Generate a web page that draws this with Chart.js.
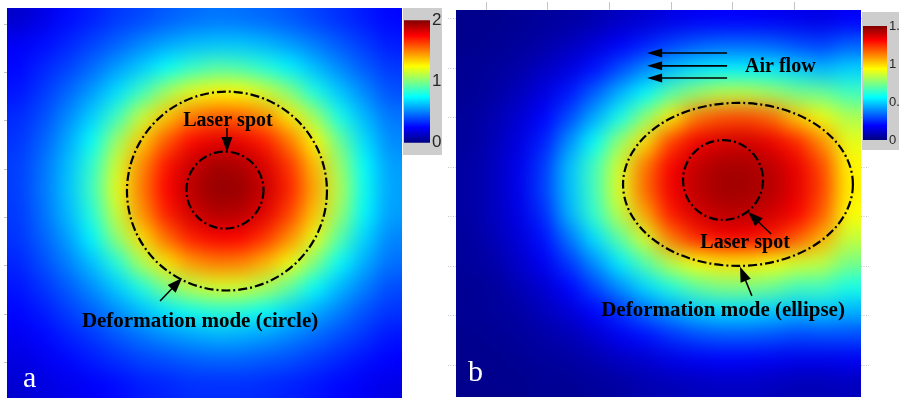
<!DOCTYPE html>
<html>
<head>
<meta charset="utf-8">
<script src="https://cdn.jsdelivr.net/npm/chart.js@4.4.1/dist/chart.umd.min.js"></script>
<style>
  body { margin: 0; width: 899px; height: 400px; overflow: hidden; background: #fff; position: relative; }
  canvas { position: absolute; }
</style>
</head>
<body>
<canvas id="mapA" width="403" height="400" style="left:0;top:0"></canvas>
<canvas id="barA" width="39" height="147" style="left:403px;top:8px;background:#cdcdcd"></canvas>
<canvas id="mapB" width="421" height="400" style="left:448px;top:0"></canvas>
<canvas id="barB" width="37" height="138" style="left:862px;top:12px;background:#cdcdcd"></canvas>
<script>
// --- deformation fields, 16 x 16 cells, row 0 at the top ---
const fieldA = [
  [0.15, 0.20, 0.27, 0.31, 0.36, 0.39, 0.43, 0.46, 0.48, 0.47, 0.45, 0.42, 0.38, 0.34, 0.30, 0.26],
  [0.23, 0.27, 0.32, 0.38, 0.44, 0.51, 0.57, 0.61, 0.63, 0.63, 0.60, 0.55, 0.49, 0.42, 0.36, 0.30],
  [0.26, 0.32, 0.38, 0.46, 0.56, 0.65, 0.76, 0.85, 0.91, 0.89, 0.82, 0.73, 0.62, 0.52, 0.43, 0.36],
  [0.29, 0.36, 0.45, 0.56, 0.69, 0.87, 1.07, 1.20, 1.26, 1.25, 1.16, 1.01, 0.80, 0.64, 0.52, 0.41],
  [0.33, 0.40, 0.52, 0.66, 0.87, 1.14, 1.36, 1.51, 1.58, 1.56, 1.47, 1.29, 1.06, 0.79, 0.61, 0.48],
  [0.35, 0.44, 0.58, 0.76, 1.06, 1.35, 1.58, 1.74, 1.80, 1.79, 1.70, 1.51, 1.26, 0.96, 0.69, 0.52],
  [0.37, 0.47, 0.62, 0.84, 1.17, 1.48, 1.72, 1.86, 1.93, 1.91, 1.82, 1.65, 1.38, 1.06, 0.75, 0.56],
  [0.37, 0.48, 0.63, 0.87, 1.21, 1.51, 1.75, 1.89, 1.96, 1.95, 1.86, 1.69, 1.42, 1.10, 0.77, 0.57],
  [0.36, 0.47, 0.61, 0.82, 1.15, 1.46, 1.70, 1.84, 1.90, 1.89, 1.80, 1.62, 1.36, 1.05, 0.74, 0.56],
  [0.35, 0.44, 0.56, 0.74, 1.03, 1.31, 1.54, 1.70, 1.76, 1.75, 1.65, 1.47, 1.21, 0.92, 0.67, 0.51],
  [0.32, 0.40, 0.50, 0.63, 0.82, 1.09, 1.30, 1.45, 1.51, 1.50, 1.40, 1.23, 1.00, 0.76, 0.59, 0.47],
  [0.29, 0.35, 0.43, 0.53, 0.65, 0.81, 1.00, 1.12, 1.18, 1.17, 1.09, 0.94, 0.76, 0.61, 0.50, 0.40],
  [0.26, 0.30, 0.37, 0.44, 0.53, 0.62, 0.71, 0.78, 0.82, 0.81, 0.76, 0.67, 0.59, 0.50, 0.41, 0.35],
  [0.22, 0.26, 0.31, 0.36, 0.42, 0.48, 0.53, 0.57, 0.60, 0.59, 0.56, 0.51, 0.46, 0.40, 0.35, 0.29],
  [0.19, 0.22, 0.26, 0.30, 0.34, 0.38, 0.40, 0.43, 0.44, 0.44, 0.42, 0.40, 0.36, 0.32, 0.28, 0.25],
  [0.16, 0.19, 0.21, 0.24, 0.27, 0.30, 0.32, 0.34, 0.34, 0.34, 0.33, 0.31, 0.29, 0.26, 0.23, 0.20]
];

const fieldB = [
  [0.02, 0.02, 0.03, 0.04, 0.05, 0.07, 0.10, 0.12, 0.15, 0.17, 0.18, 0.18, 0.17, 0.16, 0.15, 0.18],
  [0.02, 0.03, 0.04, 0.06, 0.09, 0.13, 0.18, 0.23, 0.28, 0.32, 0.34, 0.34, 0.33, 0.30, 0.28, 0.33],
  [0.03, 0.04, 0.06, 0.10, 0.14, 0.21, 0.30, 0.39, 0.47, 0.52, 0.55, 0.55, 0.54, 0.50, 0.46, 0.50],
  [0.03, 0.05, 0.09, 0.14, 0.22, 0.33, 0.45, 0.56, 0.69, 0.78, 0.84, 0.84, 0.80, 0.74, 0.72, 0.66],
  [0.04, 0.07, 0.12, 0.19, 0.30, 0.44, 0.59, 0.77, 0.96, 1.14, 1.20, 1.21, 1.16, 1.02, 0.92, 0.82],
  [0.04, 0.08, 0.14, 0.23, 0.40, 0.57, 0.78, 0.98, 1.22, 1.33, 1.37, 1.38, 1.34, 1.26, 1.10, 0.90],
  [0.05, 0.09, 0.16, 0.27, 0.47, 0.66, 0.88, 1.14, 1.32, 1.40, 1.44, 1.44, 1.41, 1.34, 1.21, 0.95],
  [0.05, 0.09, 0.16, 0.28, 0.47, 0.66, 0.90, 1.16, 1.33, 1.41, 1.45, 1.45, 1.42, 1.35, 1.22, 0.96],
  [0.05, 0.09, 0.15, 0.25, 0.45, 0.64, 0.84, 1.07, 1.28, 1.37, 1.41, 1.41, 1.38, 1.32, 1.18, 0.93],
  [0.04, 0.08, 0.13, 0.21, 0.36, 0.52, 0.70, 0.88, 1.13, 1.26, 1.32, 1.32, 1.28, 1.18, 1.05, 0.85],
  [0.04, 0.06, 0.11, 0.17, 0.27, 0.40, 0.54, 0.69, 0.84, 0.93, 0.97, 0.97, 0.93, 0.88, 0.85, 0.74],
  [0.03, 0.04, 0.08, 0.12, 0.19, 0.29, 0.40, 0.51, 0.61, 0.70, 0.75, 0.75, 0.72, 0.66, 0.66, 0.60],
  [0.03, 0.04, 0.05, 0.09, 0.13, 0.19, 0.26, 0.35, 0.42, 0.48, 0.51, 0.51, 0.49, 0.46, 0.48, 0.45],
  [0.02, 0.03, 0.04, 0.06, 0.08, 0.12, 0.17, 0.21, 0.26, 0.30, 0.32, 0.32, 0.31, 0.29, 0.30, 0.30],
  [0.02, 0.02, 0.03, 0.04, 0.05, 0.07, 0.10, 0.12, 0.15, 0.17, 0.18, 0.18, 0.17, 0.16, 0.16, 0.17],
  [0.02, 0.02, 0.02, 0.03, 0.03, 0.04, 0.05, 0.07, 0.08, 0.09, 0.10, 0.10, 0.09, 0.08, 0.08, 0.09]
];

// colour bar ranges and their tick labels
const maxA = 2;
const maxB = 1.5;
const barTicksA = [0, 1, 2];
const barTicksB = [0, 0.5, 1, 1.5];

// faint axis tick positions (in cell units) round the maps
const rowTicksA = [0.66, 2.64, 4.63, 6.61, 8.6, 10.58, 12.57, 14.56];
const rowTicksB = [0.37, 2.41, 4.46, 6.5, 8.54, 10.59, 12.63, 14.68];
const colTicksB = [1.22, 3.63, 6.08, 8.53, 10.94, 13.39];

// annotations, in cell units
const marksA = {
  rings: [{ x: 8.91, y: 7.51, rx: 4.05, ry: 4.08 }, { x: 8.83, y: 7.47, rx: 1.56, ry: 1.58 }],
  labels: [
    { text: 'Laser spot', x: 8.95, y: 4.64, size: 20 },
    { text: 'Deformation mode (circle)', x: 7.82, y: 12.88, size: 21 }
  ],
  arrows: [{ from: [8.91, 4.92], to: [8.91, 5.91] }, { from: [6.2, 12.02], to: [7.09, 11.08] }],
  letter: { text: 'a', x: 0.65, y: 15.55 }
};
const marksB = {
  rings: [{ x: 11.14, y: 7.21, rx: 4.54, ry: 3.37 }, { x: 10.55, y: 7.03, rx: 1.58, ry: 1.65 }],
  labels: [
    { text: 'Laser spot', x: 11.42, y: 9.63, size: 20 },
    { text: 'Deformation mode (ellipse)', x: 10.55, y: 12.44, size: 21 },
    { text: 'Air flow', x: 11.42, y: 2.36, size: 20, align: 'left' }
  ],
  arrows: [
    { from: [12.45, 9.26], to: [11.54, 8.35] },
    { from: [11.69, 11.82], to: [11.22, 10.62] },
    { from: [10.71, 1.78], to: [7.55, 1.78], thin: true },
    { from: [10.71, 2.31], to: [7.55, 2.31], thin: true },
    { from: [10.71, 2.81], to: [7.55, 2.81], thin: true }
  ],
  letter: { text: 'b', x: 0.47, y: 15.34 }
};

// MATLAB style jet colormap, t in [0, 1]
function jet(t) {
  t = Math.min(1, Math.max(0, t));
  const c = k => Math.round(255 * Math.min(1, Math.max(0, 1.5 - Math.abs(4 * t - k))));
  return `rgb(${c(3)},${c(2)},${c(1)})`;
}

function jetGradient(chart) {
  const a = chart.chartArea;
  if (!a) return 'transparent';
  const g = chart.ctx.createLinearGradient(0, a.bottom, 0, a.top);
  [0, 0.125, 0.375, 0.625, 0.875, 1].forEach(s => g.addColorStop(s, jet(s)));
  return g;
}

// cells are drawn off screen, then laid down sharp and softened on top
const softCells = {
  id: 'softCells',
  beforeDatasetDraw(chart, args) {
    const { ctx, chartArea: a } = chart;
    const off = document.createElement('canvas');
    off.width = chart.canvas.width;
    off.height = chart.canvas.height;
    const octx = off.getContext('2d');
    args.meta.data.forEach(p => p.draw(octx, a));
    ctx.save();
    ctx.beginPath();
    ctx.rect(a.left, a.top, a.width, a.height);
    ctx.clip();
    ctx.drawImage(off, 0, 0);
    ctx.filter = 'blur(10px)';
    for (let i = 0; i < 3; i++) ctx.drawImage(off, 0, 0);
    ctx.restore();
    return false;
  }
};

function drawArrow(ctx, x1, y1, x2, y2, len, half) {
  const ang = Math.atan2(y2 - y1, x2 - x1);
  const bx = x2 - Math.cos(ang) * len, by = y2 - Math.sin(ang) * len;
  ctx.beginPath();
  ctx.moveTo(x1, y1);
  ctx.lineTo(bx + Math.cos(ang) * 2, by + Math.sin(ang) * 2);
  ctx.stroke();
  ctx.beginPath();
  ctx.moveTo(x2, y2);
  ctx.lineTo(bx - Math.sin(ang) * half, by + Math.cos(ang) * half);
  ctx.lineTo(bx + Math.sin(ang) * half, by - Math.cos(ang) * half);
  ctx.closePath();
  ctx.fill();
}

function makeMarks(spec) {
  return {
    id: 'marks',
    afterDatasetsDraw(chart) {
      const { ctx, scales: { x, y } } = chart;
      const px = u => x.getPixelForValue(u);
      const py = v => y.getPixelForValue(v);
      ctx.save();
      ctx.strokeStyle = '#000';
      ctx.fillStyle = '#000';

      // dash-dot outlines
      ctx.lineWidth = 2.2;
      ctx.setLineDash([9, 3, 2, 3]);
      spec.rings.forEach(r => {
        ctx.beginPath();
        ctx.ellipse(px(r.x), py(r.y), Math.abs(px(r.x + r.rx) - px(r.x)),
          Math.abs(py(r.y + r.ry) - py(r.y)), 0, 0, Math.PI * 2);
        ctx.stroke();
      });
      ctx.setLineDash([]);

      spec.arrows.forEach(a => {
        ctx.lineWidth = a.thin ? 1.6 : 1.5;
        drawArrow(ctx, px(a.from[0]), py(a.from[1]), px(a.to[0]), py(a.to[1]), 15, a.thin ? 4.5 : 5.5);
      });

      ctx.textBaseline = 'middle';
      spec.labels.forEach(l => {
        ctx.font = `bold ${l.size}px "Liberation Serif", "Times New Roman", serif`;
        ctx.textAlign = l.align || 'center';
        ctx.fillText(l.text, px(l.x), py(l.y));
      });

      ctx.fillStyle = '#fff';
      ctx.textAlign = 'left';
      ctx.textBaseline = 'alphabetic';
      ctx.font = '30px "Liberation Serif", "Times New Roman", serif';
      ctx.fillText(spec.letter.text, px(spec.letter.x), py(spec.letter.y));
      ctx.restore();
    }
  };
}

function tickAxis(position, ticks, len, dashed) {
  return {
    type: 'linear', position, min: 0, max: 16, reverse: position !== 'top' && position !== 'bottom',
    display: true,
    ticks: { display: false },
    border: { display: false },
    grid: { drawOnChartArea: false, drawTicks: true, tickLength: len, color: '#c4c4c4', tickBorderDash: dashed ? [1, 1.5] : [] },
    afterBuildTicks: s => { s.ticks = ticks.map(value => ({ value })); }
  };
}

function heatMap(id, field, max, scales, padding, spec) {
  const cells = [], colours = [];
  field.forEach((row, j) => row.forEach((v, i) => {
    cells.push({ x: i + 0.5, y: j + 0.5 });
    colours.push(jet(v / max));
  }));
  new Chart(document.getElementById(id), {
    type: 'scatter',
    data: { datasets: [{ data: cells, backgroundColor: colours, borderWidth: 0, pointStyle: 'rect', pointRadius: 19, pointHoverRadius: 19 }] },
    options: {
      responsive: false, animation: false, events: [],
      layout: { padding, autoPadding: false },
      plugins: { legend: { display: false }, tooltip: { enabled: false } },
      scales
    },
    plugins: [softCells, makeMarks(spec)]
  });
}

function colourBar(id, max, ticks, fontSize, padding) {
  new Chart(document.getElementById(id), {
    type: 'bar',
    data: { labels: [''], datasets: [{ data: [max], backgroundColor: c => jetGradient(c.chart), borderWidth: 0, categoryPercentage: 1, barPercentage: 1 }] },
    options: {
      responsive: false, animation: false, events: [],
      layout: { padding, autoPadding: false },
      plugins: { legend: { display: false }, tooltip: { enabled: false } },
      scales: {
        x: { display: false },
        y: {
          position: 'right', min: 0, max,
          grid: { display: false, drawTicks: false },
          border: { display: false },
          ticks: {
            padding: 2, color: '#262626',
            font: { family: '"Liberation Sans", Arial, sans-serif', size: fontSize },
            callback: v => String(v)
          },
          afterBuildTicks: s => { s.ticks = ticks.map(value => ({ value })); },
          afterFit: s => { s.width = 12; }
        }
      }
    }
  });
}

heatMap('mapA', fieldA, maxA, {
  x: { type: 'linear', min: 0, max: 16, display: false },
  y: tickAxis('left', rowTicksA, 3, false)
}, { left: 4, right: 1, top: 8, bottom: 2 }, marksA);

heatMap('mapB', fieldB, maxB, {
  x: tickAxis('top', colTicksB, 8, false),
  y: tickAxis('left', rowTicksB, 8, true),
  y2: tickAxis('right', rowTicksB, 8, true)
}, { left: 0, right: 0, top: 2, bottom: 3 }, marksB);

colourBar('barA', maxA, barTicksA, 17, { left: 1, right: 0, top: 12, bottom: 12 });
colourBar('barB', maxB, barTicksB, 13, { left: 1, right: 0, top: 14, bottom: 10 });
</script>
</body>
</html>
